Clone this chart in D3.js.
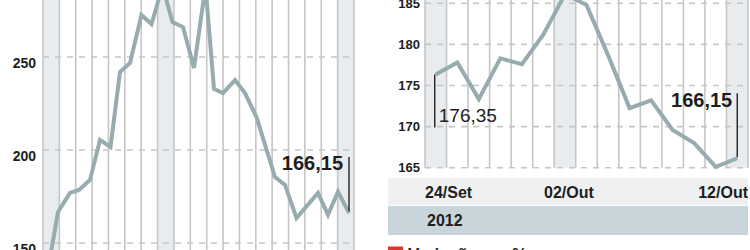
<!DOCTYPE html>
<html><head><meta charset="utf-8">
<script src="https://cdn.jsdelivr.net/npm/d3@7"></script>
<style>body{margin:0;background:#fff}svg{display:block}text{font-family:"Liberation Sans",Arial,sans-serif}</style>
</head><body>
<svg id="c" width="750" height="250"></svg>
<script>
// ---- data ----
// left panel: position (period units) and value
const leftPos = [0, 0.8, 2, 2.9, 4, 5, 6.05, 7, 8, 9.15, 10.15, 11.25, 12.25, 13.3, 14.4, 15.55, 16.4, 17.3, 18.5, 19.5, 20.65, 22.5, 23.5, 24.65, 26.8, 27.8, 28.8, 29.9];
const leftValues = [141.9, 166.7, 176.9, 178.5, 183.9, 205.4, 201.6, 241.9, 246.8, 272.6, 267.7, 288.0, 268.8, 266.1, 244.1, 288.0, 232.8, 230.6, 237.6, 230.6, 217.7, 185.5, 181.2, 163.4, 176.9, 165.1, 177.6, 166.15];
const leftTicks = [150, 200, 250];
const leftBandCount = 19;
const leftShaded = [0, 7, 18];
const leftLast = "166,15";

// right panel: trading days 24/Set .. 12/Out 2012
const rightDays = ["24/Set","25/Set","26/Set","27/Set","28/Set","01/Out","02/Out","03/Out","04/Out","05/Out","08/Out","09/Out","10/Out","11/Out","12/Out"];
const rightValues = [176.35, 177.8, 173.35, 178.3, 177.6, 181.2, 186.1, 184.8, 178.7, 172.25, 173.2, 169.6, 168.0, 165.1, 166.15];
const rightTicks = [165, 170, 175, 180, 185];
const rightLabeled = ["24/Set", "02/Out", "12/Out"];
const rightYear = "2012";
const rightFirst = "176,35";
const rightLast = "166,15";
const legendText = "Variação em %";

// ---- styles ----
const lineColor = "#97acae", gridColor = "#c6c6c6", shadeColor = "#e8ecee", textColor = "#1e1e1e";
const svg = d3.select("#c");

// ---- left panel ----
const lx = d3.scaleLinear().domain([-0.7, 30.4]).range([43, 354]);
const lBand = d3.scaleLinear().domain([0, leftBandCount]).range([43, 354]);
const ly = d3.scaleLinear().domain([150, 250]).range([243, 57]);
const L = svg.append("g");
L.selectAll("rect.sh").data(leftShaded).join("rect")
  .attr("x", d => lBand(d)).attr("y", 0).attr("width", d => lBand(d + 1) - lBand(d)).attr("height", 250)
  .attr("fill", shadeColor);
L.selectAll("line.v").data(d3.range(leftBandCount + 1)).join("line")
  .attr("x1", d => lBand(d)).attr("x2", d => lBand(d)).attr("y1", 0).attr("y2", 250)
  .attr("stroke", gridColor).attr("stroke-width", 1.6);
L.selectAll("line.h").data(leftTicks).join("line")
  .attr("x1", 43).attr("x2", 354).attr("y1", d => ly(d)).attr("y2", d => ly(d))
  .attr("stroke", gridColor).attr("stroke-width", 1.6).attr("stroke-dasharray", "6,6");
L.selectAll("text.t").data(leftTicks).join("text")
  .attr("x", 36).attr("y", d => ly(d) + 10.5).attr("text-anchor", "end")
  .attr("font-size", 14).attr("font-weight", "bold").attr("fill", textColor).text(d => d);
L.append("path").datum(leftValues.map((v, i) => [leftPos[i], v]))
  .attr("d", d3.line().x(d => lx(d[0])).y(d => ly(d[1])))
  .attr("fill", "none").attr("stroke", lineColor).attr("stroke-width", 4).attr("stroke-linejoin", "miter");
const lLastX = lx(leftPos[leftPos.length - 1]), lLastY = ly(leftValues[leftValues.length - 1]);
L.append("line").attr("x1", lLastX).attr("x2", lLastX).attr("y1", ly(leftValues[leftValues.length-1]) - 56).attr("y2", lLastY - 2)
  .attr("stroke", "#111").attr("stroke-width", 1.3);
L.append("text").attr("x", lLastX - 6).attr("y", lLastY - 43).attr("text-anchor", "end")
  .attr("font-size", 20).attr("font-weight", "bold").attr("fill", textColor).text(leftLast);

// ---- right panel ----
const rx = d3.scaleLinear().domain([-0.5, rightDays.length - 0.5]).range([425, 748]);
const ry = d3.scaleLinear().domain([165, 185]).range([167.7, 3.3]);
const R = svg.append("g");
const shadedIdx = rightLabeled.map(d => rightDays.indexOf(d));
R.selectAll("rect.sh").data(shadedIdx).join("rect")
  .attr("x", d => rx(d - 0.5)).attr("y", 0).attr("width", rx(1) - rx(0)).attr("height", ry(165))
  .attr("fill", shadeColor);
R.selectAll("line.v").data(d3.range(rightDays.length + 1)).join("line")
  .attr("x1", d => rx(d - 0.5)).attr("x2", d => rx(d - 0.5)).attr("y1", 0).attr("y2", ry(165))
  .attr("stroke", gridColor).attr("stroke-width", 1.6);
R.selectAll("line.h").data(rightTicks).join("line")
  .attr("x1", 425).attr("x2", 748).attr("y1", d => ry(d)).attr("y2", d => ry(d))
  .attr("stroke", gridColor).attr("stroke-width", 1.6).attr("stroke-dasharray", "6,6");
R.selectAll("text.t").data(rightTicks).join("text")
  .attr("x", 420).attr("y", d => ry(d) + 4.5).attr("text-anchor", "end")
  .attr("font-size", 13).attr("font-weight", "bold").attr("fill", textColor).text(d => d);
R.append("path").datum(rightValues)
  .attr("d", d3.line().x((d, i) => rx(i)).y(d => ry(d)))
  .attr("fill", "none").attr("stroke", lineColor).attr("stroke-width", 4);
// first value marker
const rFx = rx(0) - 1, rFy = ry(rightValues[0]);
R.append("line").attr("x1", rFx).attr("x2", rFx).attr("y1", rFy).attr("y2", rFy + 53)
  .attr("stroke", "#111").attr("stroke-width", 1.3);
R.append("text").attr("x", rFx + 4).attr("y", rFy + 48).attr("font-size", 19).attr("fill", "#222").text(rightFirst);
// last value marker
const rLx = rx(rightDays.length - 1), rLy = ry(rightValues[rightValues.length - 1]);
R.append("line").attr("x1", rLx).attr("x2", rLx).attr("y1", rLy - 65).attr("y2", rLy - 1)
  .attr("stroke", "#111").attr("stroke-width", 1.3);
R.append("text").attr("x", rLx - 5).attr("y", rLy - 51).attr("text-anchor", "end")
  .attr("font-size", 20).attr("font-weight", "bold").attr("fill", textColor).text(rightLast);

// x axis bands
R.append("rect").attr("x", 388).attr("y", 178).attr("width", 360).attr("height", 27).attr("fill", "#eef0f1");
R.append("rect").attr("x", 388).attr("y", 206).attr("width", 360).attr("height", 29).attr("fill", "#c8d5da");
R.selectAll("text.d").data(shadedIdx).join("text")
  .attr("x", (d, i) => i === 0 ? rx(d - 0.5) : i === shadedIdx.length - 1 ? rx(d + 0.5) : rx(d) + 4)
  .attr("text-anchor", (d, i) => i === 0 ? "start" : i === shadedIdx.length - 1 ? "end" : "middle")
  .attr("y", 198).attr("font-size", 16).attr("font-weight", "bold").attr("fill", textColor)
  .text(d => rightDays[d]);
R.append("text").attr("x", 427).attr("y", 226).attr("font-size", 16).attr("font-weight", "bold")
  .attr("fill", textColor).text(rightYear);
// legend (cut at the bottom)
R.append("rect").attr("x", 388).attr("y", 246.5).attr("width", 15).attr("height", 14).attr("fill", "#d8382e");
R.append("text").attr("x", 408).attr("y", 260).attr("font-size", 17).attr("font-weight", "bold")
  .attr("fill", textColor).text(legendText);
</script>
</body></html>
